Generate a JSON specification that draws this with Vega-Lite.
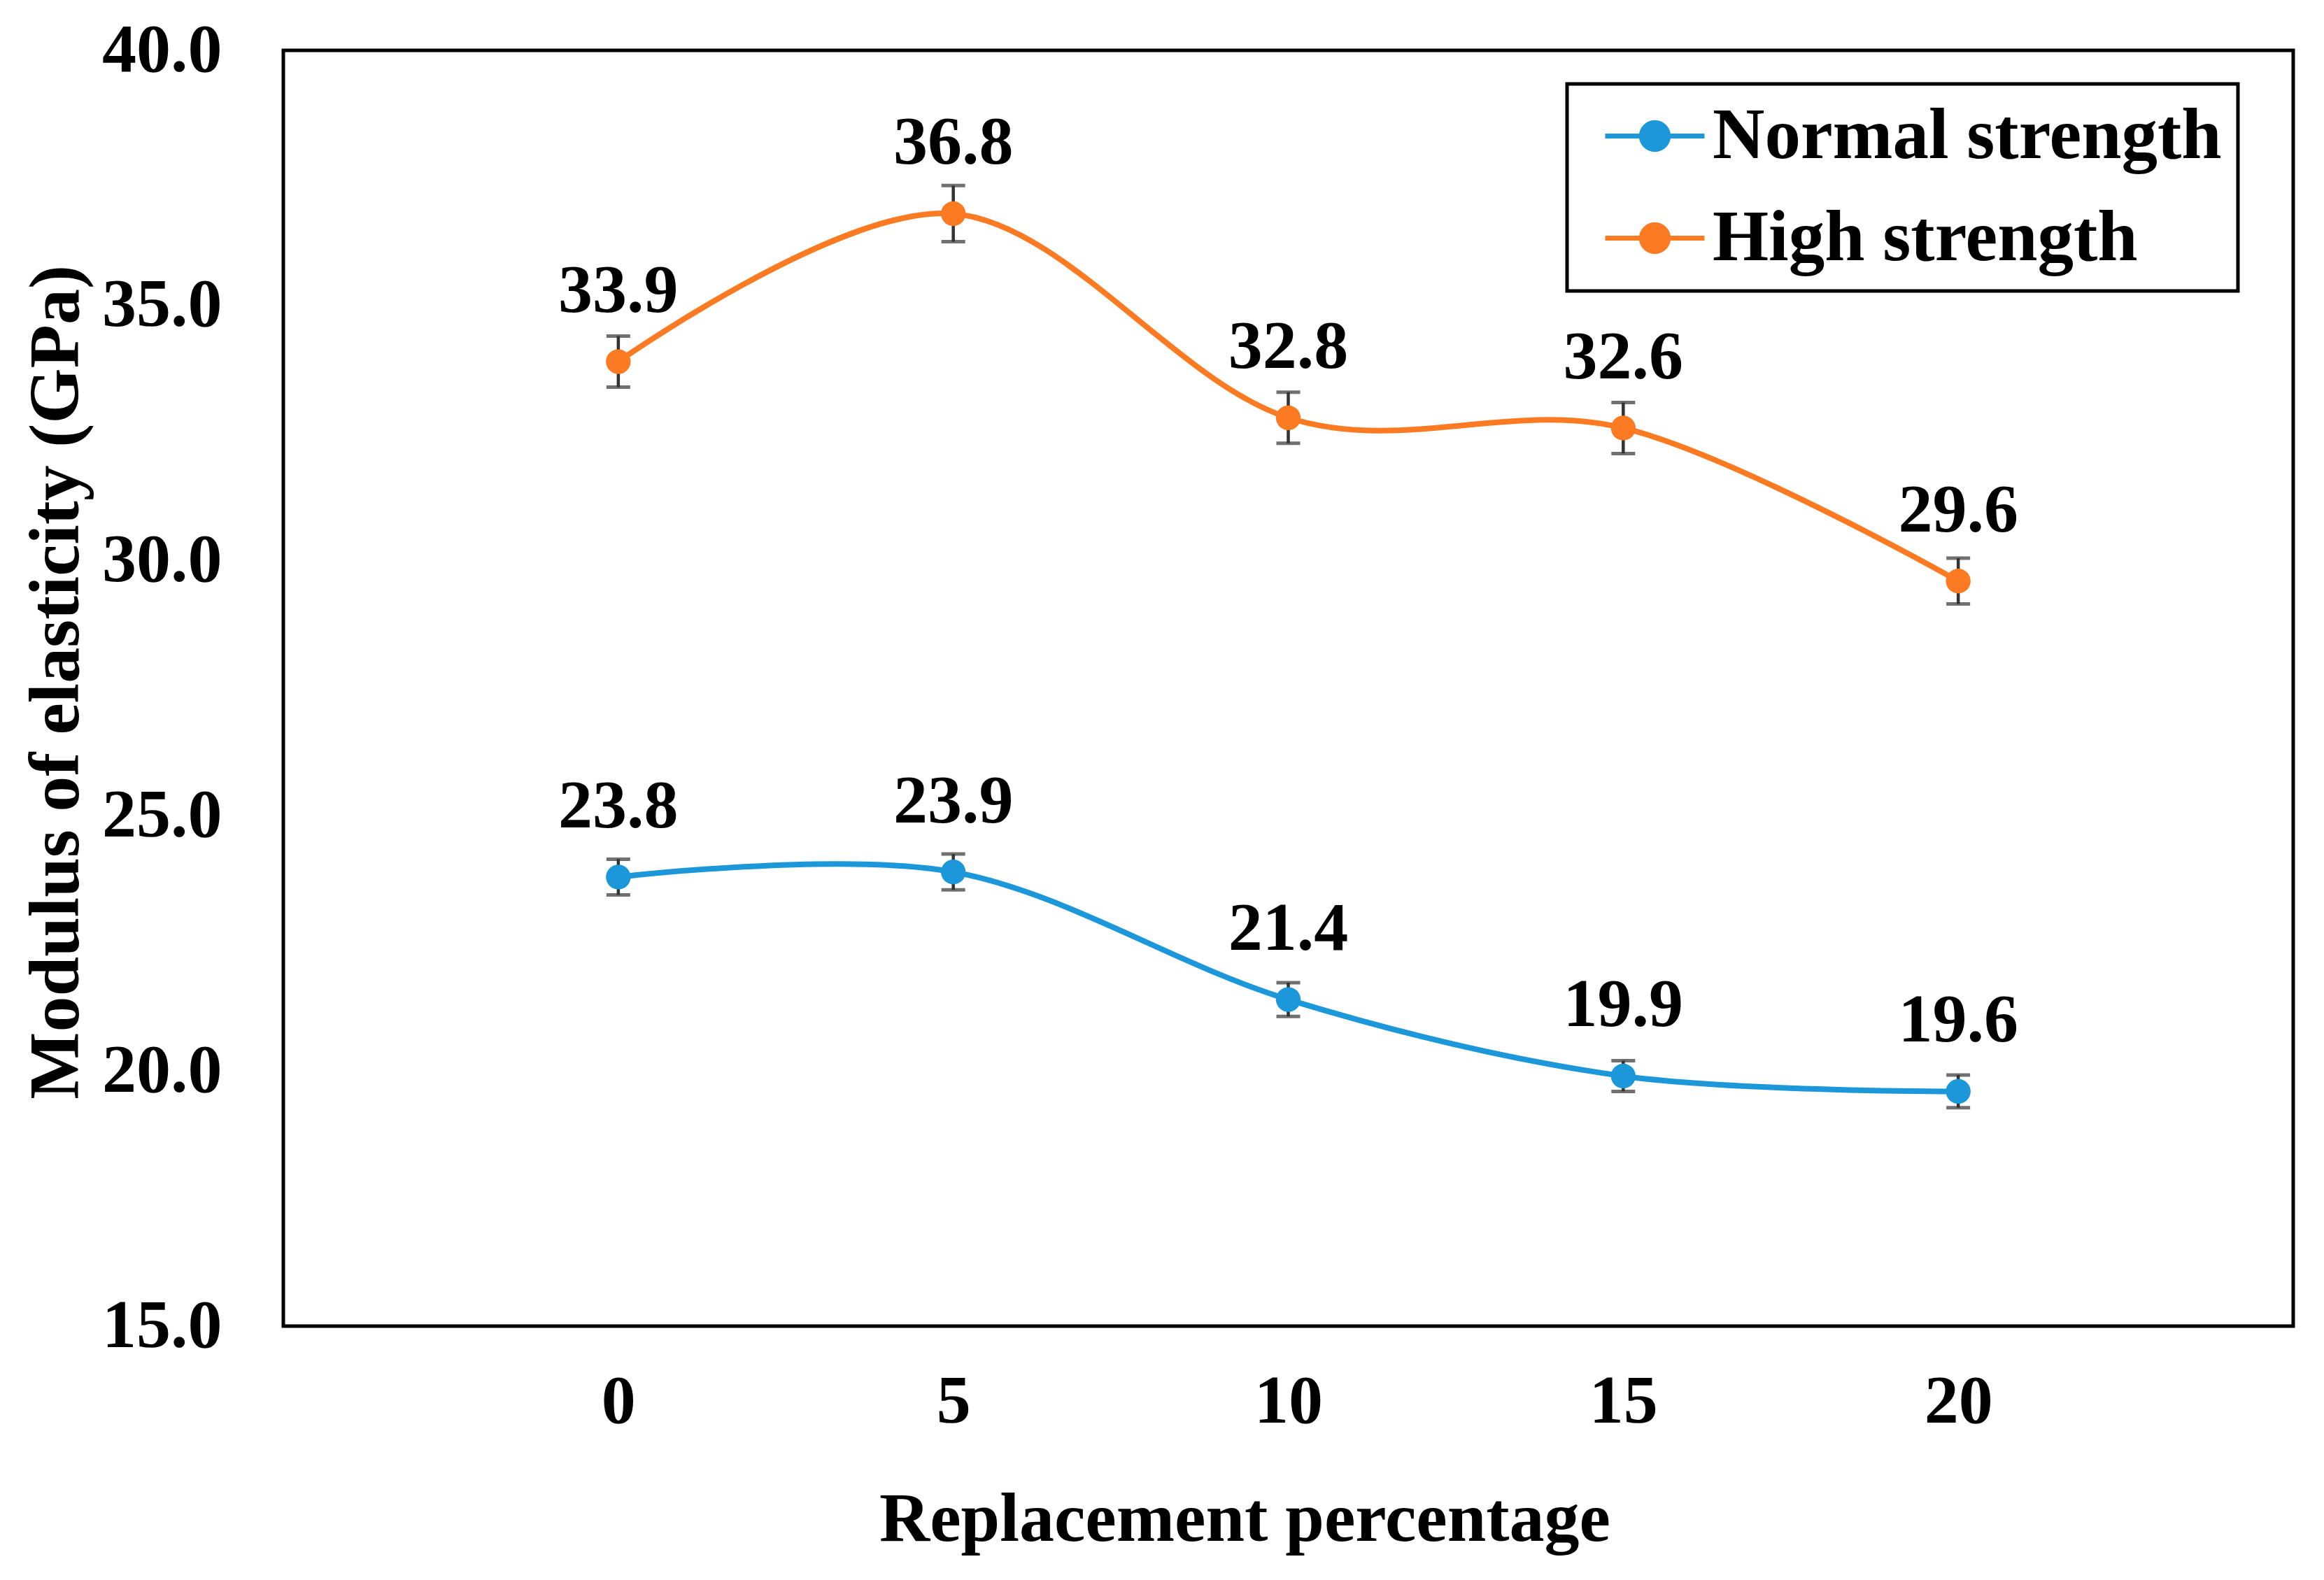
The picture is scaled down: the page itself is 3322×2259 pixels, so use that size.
{
  "$schema": "https://vega.github.io/schema/vega-lite/v6.json",
  "width": 2873,
  "height": 1824,
  "autosize": {"type": "none"},
  "padding": {"left": 405, "top": 72, "right": 44, "bottom": 363},
  "background": "white",
  "config": {
    "font": "Liberation Serif",
    "view": {"stroke": "black", "strokeWidth": 5},
    "axis": {"grid": false, "domain": false, "ticks": false, "labelFont": "Liberation Serif", "labelFontWeight": "bold", "labelColor": "black", "titleFont": "Liberation Serif", "titleFontWeight": "bold", "titleColor": "black"}
  },
  "data": {
    "values": [
      {"series": "Normal strength", "x": 0, "y": 23.8, "err": 0.35},
      {"series": "Normal strength", "x": 5, "y": 23.9, "err": 0.35},
      {"series": "Normal strength", "x": 10, "y": 21.4, "err": 0.33},
      {"series": "Normal strength", "x": 15, "y": 19.9, "err": 0.3},
      {"series": "Normal strength", "x": 20, "y": 19.6, "err": 0.32},
      {"series": "High strength", "x": 0, "y": 33.9, "err": 0.5},
      {"series": "High strength", "x": 5, "y": 36.8, "err": 0.55},
      {"series": "High strength", "x": 10, "y": 32.8, "err": 0.5},
      {"series": "High strength", "x": 15, "y": 32.6, "err": 0.5},
      {"series": "High strength", "x": 20, "y": 29.6, "err": 0.45}
    ]
  },
  "encoding": {
    "x": {"field": "x", "type": "quantitative", "scale": {"domain": [-5, 25], "nice": false, "zero": false},
      "axis": {"values": [0, 5, 10, 15, 20], "labelFontSize": 98, "labelPadding": 60, "title": "Replacement  percentage", "titleFontSize": 100, "titleX": 1374, "titleY": 276, "titleBaseline": "middle"}},
    "y": {"field": "y", "type": "quantitative", "scale": {"domain": [15, 40], "nice": false, "zero": false},
      "axis": {"values": [15, 20, 25, 30, 35, 40], "format": ".1f", "labelFontSize": 98, "labelPadding": 88, "title": "Modulus of elasticity (GPa)", "titleFontSize": 102, "titleX": -325, "titleY": 903, "titleAngle": -90, "titleBaseline": "middle", "titleAlign": "center"}}
  },
  "layer": [
    {
      "mark": {"type": "line", "interpolate": "cardinal", "strokeWidth": 8},
      "encoding": {
        "color": {"field": "series", "type": "nominal",
          "scale": {"domain": ["Normal strength", "High strength"], "range": ["#1C97D9", "#FB7A22"]},
          "legend": {"title": null, "orient": "none", "legendX": 1835, "legendY": 48,
            "symbolType": "M-2,0L2,0M0.54,0A0.54,0.54,0,1,1,-0.54,0A0.54,0.54,0,1,1,0.54,0Z",
            "symbolSize": 5041, "symbolStrokeWidth": 7, "symbolOffset": 51,
            "labelFont": "Liberation Serif", "labelFontWeight": "bold", "labelFontSize": 103, "labelColor": "black", "labelOffset": 31, "labelLimit": 2000,
            "padding": 23, "rowPadding": 42, "strokeColor": "black", "fillColor": "white",
            "encode": {
              "legend": {"update": {"strokeWidth": {"value": 5}}},
              "symbols": {"update": {"fill": {"scale": "color", "field": "value"}, "stroke": {"scale": "color", "field": "value"}, "fillOpacity": {"value": 1}, "opacity": {"value": 1}}}}}
        }
      }
    },
    {
      "mark": {"type": "errorbar", "ticks": {"size": 34, "thickness": 5, "color": "#333333"}, "rule": {"strokeWidth": 4.5, "color": "#333333"}, "color": "#333333"},
      "encoding": {"yError": {"field": "err"}}
    },
    {
      "mark": {"type": "point", "filled": true, "size": 1250, "opacity": 1, "shape": "circle"},
      "encoding": {"color": {"field": "series", "type": "nominal", "legend": null}}
    },
    {
      "mark": {"type": "text", "dy": -100, "baseline": "middle", "align": "center", "fontSize": 98, "fontWeight": "bold", "font": "Liberation Serif", "color": "black"},
      "encoding": {"text": {"field": "y", "type": "quantitative", "format": ".1f"}}
    }
  ]
}
